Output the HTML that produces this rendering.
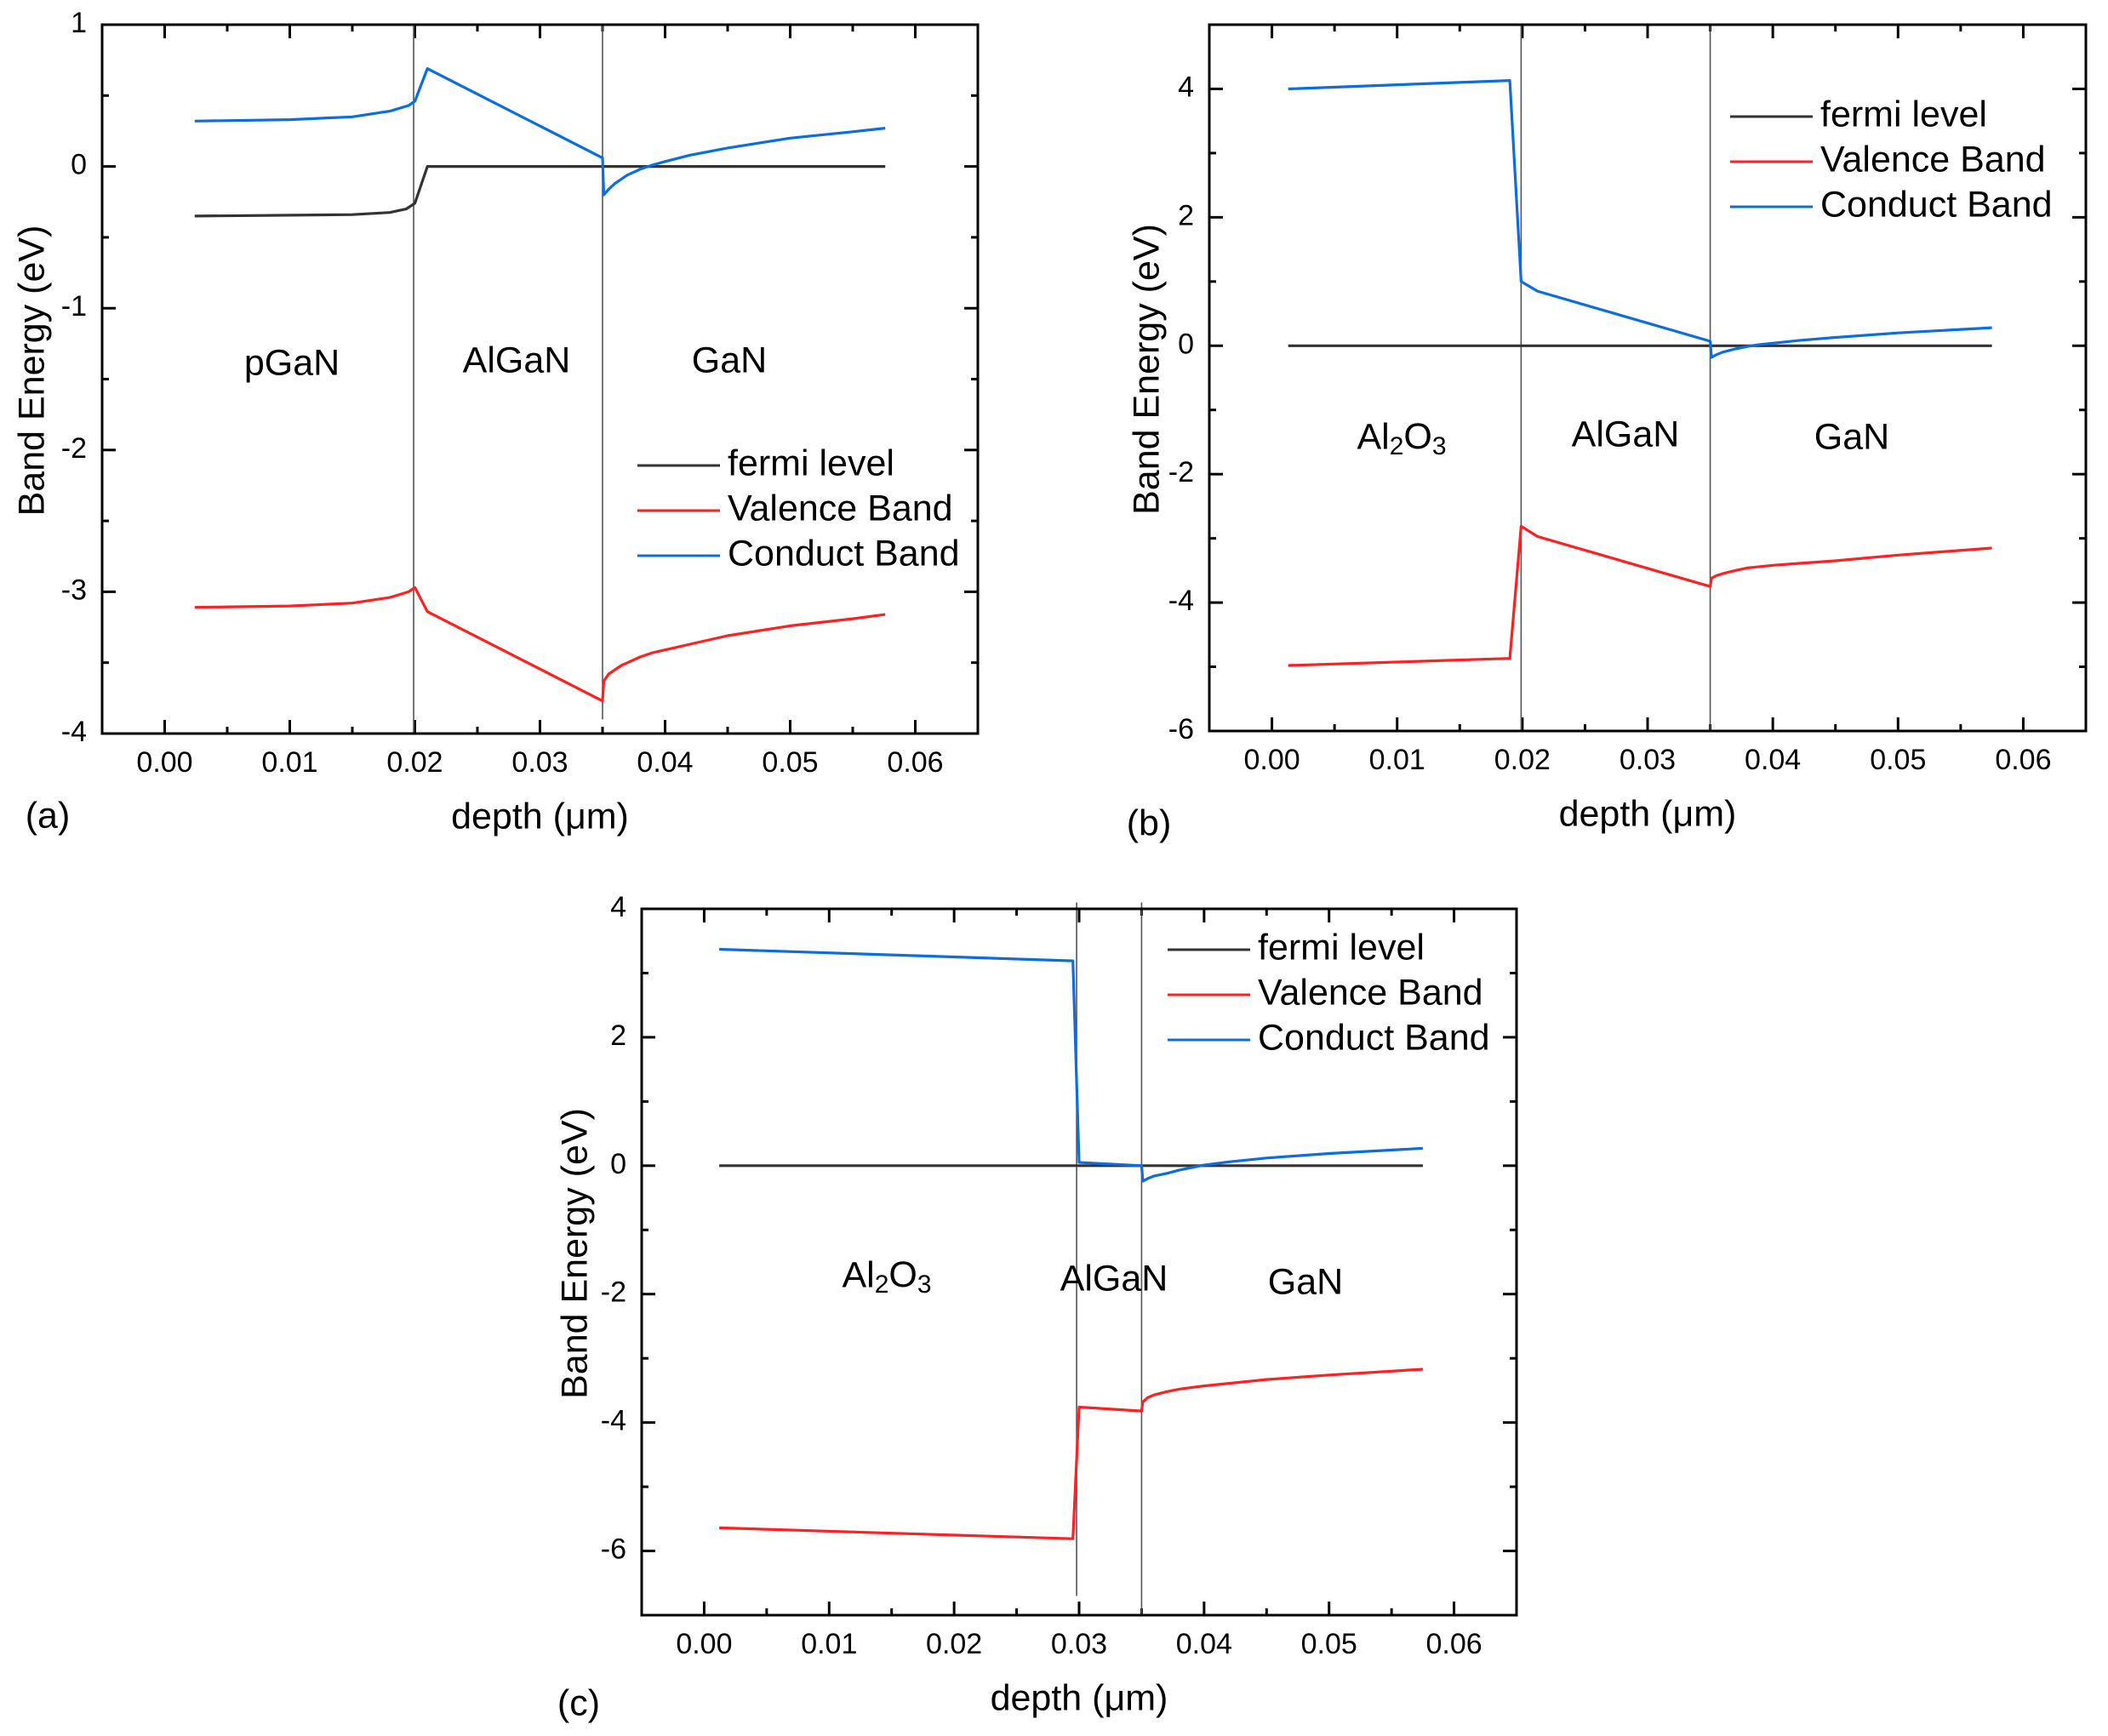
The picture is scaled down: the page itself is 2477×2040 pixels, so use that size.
<!DOCTYPE html>
<html><head><meta charset="utf-8">
<style>
html,body{margin:0;padding:0;background:#fff;}
svg{display:block;font-family:"Liberation Sans",Arial,sans-serif;}
</style></head>
<body>
<svg id="fig" width="2477" height="2040" viewBox="0 0 2477 2040" xmlns="http://www.w3.org/2000/svg"></svg>
<script>
// ---- Panel (a) data ----
const aCondX = [0.0024,0.010,0.015,0.018,0.0195,0.0200,0.0210,0.0350,0.0351,0.0355,0.036,0.0365,0.037,0.0375,0.038,0.039,0.040,0.042,0.045,0.050,0.055,0.0576];
const aCondY = [0.32,0.33,0.35,0.39,0.43,0.46,0.69,0.06,-0.20,-0.16,-0.12,-0.09,-0.06,-0.04,-0.02,0.01,0.035,0.08,0.13,0.20,0.245,0.27];
const aFermiX = [0.0024,0.015,0.018,0.0193,0.0200,0.0210,0.0576];
const aFermiY = [-0.35,-0.34,-0.325,-0.30,-0.26,0,0];
const aValX = [0.0024,0.010,0.015,0.018,0.0195,0.0200,0.0210,0.0350,0.0351,0.0355,0.036,0.0365,0.037,0.038,0.039,0.040,0.042,0.045,0.050,0.055,0.0576];
const aValY = [-3.11,-3.10,-3.08,-3.04,-3.00,-2.97,-3.14,-3.77,-3.63,-3.58,-3.55,-3.52,-3.50,-3.46,-3.43,-3.41,-3.37,-3.31,-3.24,-3.19,-3.16];
// ---- Panel (b) data ----
const bCondX = [0.0013,0.0190,0.0199,0.0212,0.0350,0.0351,0.0355,0.036,0.037,0.038,0.039,0.040,0.042,0.045,0.050,0.0575];
const bCondY = [4.00,4.13,1.00,0.85,0.07,-0.18,-0.14,-0.10,-0.05,-0.01,0.02,0.04,0.08,0.13,0.20,0.28];
const bFermiX = [0.0013,0.0575];
const bFermiY = [0,0];
const bValX = [0.0013,0.0190,0.0199,0.0212,0.0350,0.0351,0.0355,0.036,0.037,0.038,0.040,0.042,0.045,0.050,0.0575];
const bValY = [-4.98,-4.87,-2.81,-2.97,-3.75,-3.62,-3.58,-3.55,-3.50,-3.46,-3.42,-3.39,-3.35,-3.26,-3.15];
// ---- Panel (c) data ----
const cCondX = [0.0012,0.0295,0.0300,0.0350,0.0351,0.0355,0.036,0.037,0.038,0.039,0.040,0.042,0.045,0.050,0.0575];
const cCondY = [3.37,3.19,0.05,0.00,-0.24,-0.20,-0.16,-0.12,-0.07,-0.03,0.01,0.06,0.12,0.19,0.27];
const cFermiX = [0.0012,0.0575];
const cFermiY = [0,0];
const cValX = [0.0012,0.0295,0.0300,0.0350,0.0351,0.0355,0.036,0.037,0.038,0.040,0.042,0.045,0.050,0.0575];
const cValY = [-5.64,-5.81,-3.76,-3.82,-3.68,-3.61,-3.57,-3.52,-3.48,-3.43,-3.39,-3.33,-3.26,-3.17];
const xTickLabels = ["0.00","0.01","0.02","0.03","0.04","0.05","0.06"];
const aYTicks = [1,0,-1,-2,-3,-4];
const bYTicks = [4,2,0,-2,-4,-6];
const cYTicks = [4,2,0,-2,-4,-6];

const NS = "http://www.w3.org/2000/svg";
const fig = document.getElementById('fig');
function mk(tag, attrs, parent, txt){
  const e = document.createElementNS(NS, tag);
  for (const k in attrs) e.setAttribute(k, attrs[k]);
  if (txt !== undefined) e.textContent = txt;
  (parent||fig).appendChild(e);
  return e;
}
const FS = 43;

function panel(p){
  const g = mk('g', {});
  
  
  const sx = v => p.L + (v - (-0.005)) / 0.07 * (p.R - p.L);
  const sy = v => p.T + (p.ymax - v) / (p.ymax - p.ymin) * (p.B - p.T);
  for (let i = 0; i <= 14; i++) {
    const v = -0.005 + i*0.005;
    if (v <= -0.005 + 1e-9 || v >= 0.065 - 1e-9) continue;
    const major = (Math.round(v*1000) % 10 === 0);
    const len = major ? 16 : 8;
    const x = sx(v);
    const t1 = mk('line', {x1:x, x2:x, y1:p.B, y2:p.B-len, stroke:'#000','stroke-width':3}, g);
    
    
    mk('line', {x1:x, x2:x, y1:p.T, y2:p.T+len, stroke:'#000','stroke-width':3}, g);
  }
  xTickLabels.forEach((lab, i) => {
    const t = mk('text', {x:sx(i*0.01), y:p.B+36, 'font-size':34, 'text-anchor':'middle', 'dominant-baseline':'middle'}, g, lab);
    
    
  });
  for (let v = p.ymin; v <= p.ymax + 1e-9; v += p.minor) {
    if (Math.abs(v-p.ymin) < 1e-9 || Math.abs(v-p.ymax) < 1e-9) continue;
    const major = Math.abs(v/p.major - Math.round(v/p.major)) < 1e-6;
    const len = major ? 16 : 8;
    const y = sy(v);
    const t1 = mk('line', {x1:p.L, x2:p.L+len, y1:y, y2:y, stroke:'#000','stroke-width':3}, g);
    
    
    mk('line', {x1:p.R, x2:p.R-len, y1:y, y2:y, stroke:'#000','stroke-width':3}, g);
  }
  p.yticks.forEach(v => {
    const t = mk('text', {x:p.L-18, y:sy(v), 'font-size':34, 'text-anchor':'end', 'dominant-baseline':'middle'}, g, String(v));
    
    
  });
  p.ifaces.forEach(f => {
    const l = mk('line', {x1:sx(f[0]), x2:sx(f[0]), y1:sy(f[1]), y2:sy(f[2]), stroke:'#555','stroke-width':1.6}, g);
    
    
  });
  const series = [
    {xs:p.fx, ys:p.fy, c:'#333333', n:'fermi-level-line'},
    {xs:p.vx, ys:p.vy, c:'#ff2020', n:'valence-band-line'},
    {xs:p.cx, ys:p.cy, c:'#0a6ee0', n:'conduct-band-line'}
  ];
  series.forEach(s => {
    const d = s.xs.map((x,i) => (i?'L':'M') + sx(x).toFixed(1) + ' ' + sy(s.ys[i]).toFixed(1)).join(' ');
    const path = mk('path', {d:d, fill:'none', stroke:s.c, 'stroke-width':3.2, 'stroke-linejoin':'round'}, g);
    
    
  });
  const fr = mk('rect', {x:p.L, y:p.T, width:p.R-p.L, height:p.B-p.T, fill:'none', stroke:'#000', 'stroke-width':3}, g);
  
  
  p.regions.forEach(r => {
    const t = mk('text', {x:r[1], y:r[2], 'font-size':FS, 'text-anchor':'middle', 'dominant-baseline':'middle'}, g);
    
    
    if (r[0] === 'Al2O3') {
      t.appendChild(document.createTextNode('Al'));
      mk('tspan', {'font-size':30, dy:10}, t, '2');
      mk('tspan', {'font-size':FS, dy:-10}, t, 'O');
      mk('tspan', {'font-size':30, dy:10}, t, '3');
    } else t.textContent = r[0];
  });
  const lg = mk('g', {}, g);
  
  
  const names = ['fermi level','Valence Band','Conduct Band'];
  const cols = ['#333333','#ff2020','#0a6ee0'];
  names.forEach((n,i) => {
    const y = p.legY + i*53;
    const ln = mk('line', {x1:p.legX, x2:p.legX+97, y1:y, y2:y, stroke:cols[i], 'stroke-width':3}, lg);
    
    
    const t = mk('text', {x:p.legX+106, y:y, 'font-size':FS, 'dominant-baseline':'middle'}, lg, n);
    
    
  });
  const xt = mk('text', {x:(p.L+p.R)/2, y:p.B+100, 'font-size':FS, 'text-anchor':'middle', 'dominant-baseline':'middle'}, g, 'depth (μm)');
  
  
  const yt = mk('text', {x:0, y:0, 'font-size':FS, 'text-anchor':'middle', 'dominant-baseline':'middle', transform:'translate('+p.ytX+','+((p.T+p.B)/2 - 10)+') rotate(-90)'}, g, 'Band Energy (eV)');
  
  
  const pl = mk('text', {x:p.labX, y:p.labY, 'font-size':FS, 'text-anchor':'middle', 'dominant-baseline':'middle'}, g, '(' + p.id + ')');
  
  
}

panel({id:'a', L:120, R:1149, T:29, B:862, ymin:-4, ymax:1, major:1, minor:0.5, yticks:aYTicks,
  cx:aCondX, cy:aCondY, fx:aFermiX, fy:aFermiY, vx:aValX, vy:aValY,
  ifaces:[[0.0199,1,-4],[0.035,1,-3.9]],
  regions:[['pGaN',343,429],['AlGaN',607,426],['GaN',857,426]],
  legX:749, legY:547, ytX:40, labX:56, labY:961});
panel({id:'b', L:1421, R:2451, T:29, B:859, ymin:-6, ymax:5, major:2, minor:1, yticks:bYTicks,
  cx:bCondX, cy:bCondY, fx:bFermiX, fy:bFermiY, vx:bValX, vy:bValY,
  ifaces:[[0.0199,5,-6],[0.035,5,-6]],
  regions:[['Al2O3',1647,516],['AlGaN',1910,513],['GaN',2176,516]],
  legX:2033, legY:137, ytX:1350, labX:1350, labY:970});
panel({id:'c', L:754, R:1782, T:1068, B:1898, ymin:-7, ymax:4, major:2, minor:1, yticks:cYTicks,
  cx:cCondX, cy:cCondY, fx:cFermiX, fy:cFermiY, vx:cValX, vy:cValY,
  ifaces:[[0.0298,4.1,-6.7],[0.035,4.1,-7]],
  regions:[['Al2O3',1042,1501],['AlGaN',1309,1505],['GaN',1534,1509]],
  legX:1372, legY:1116, ytX:678, labX:680, labY:2004});
</script>
</body></html>
